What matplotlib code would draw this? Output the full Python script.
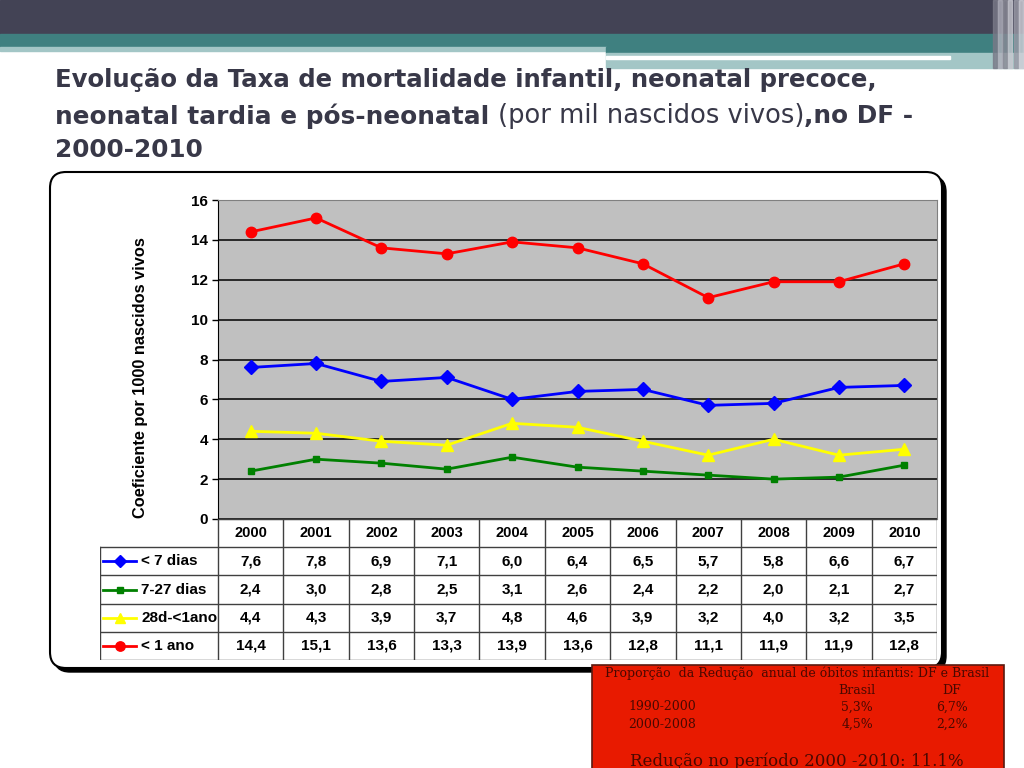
import matplotlib
matplotlib.use('Agg')
import matplotlib.pyplot as plt
from matplotlib.patches import Rectangle, FancyBboxPatch

# dados
anos = ['2000', '2001', '2002', '2003', '2004', '2005', '2006', '2007', '2008', '2009', '2010']
menos7 = [7.6, 7.8, 6.9, 7.1, 6.0, 6.4, 6.5, 5.7, 5.8, 6.6, 6.7]
d7_27 = [2.4, 3.0, 2.8, 2.5, 3.1, 2.6, 2.4, 2.2, 2.0, 2.1, 2.7]
d28_1ano = [4.4, 4.3, 3.9, 3.7, 4.8, 4.6, 3.9, 3.2, 4.0, 3.2, 3.5]
menos1ano = [14.4, 15.1, 13.6, 13.3, 13.9, 13.6, 12.8, 11.1, 11.9, 11.9, 12.8]

series = [
    ('< 7 dias', menos7, '#0000ff', 'D', 7),
    ('7-27 dias', d7_27, '#008000', 's', 5),
    ('28d-<1ano', d28_1ano, '#ffff00', '^', 8),
    ('< 1 ano', menos1ano, '#ff0000', 'o', 7.5),
]

yticks = [0, 2, 4, 6, 8, 10, 12, 14, 16]

plt.rcParams['font.family'] = ['Liberation Sans', 'DejaVu Sans']

W, H = 1024, 768
fig = plt.figure(figsize=(W / 100, H / 100), dpi=100)

# fundo do slide
bg = fig.add_axes([0, 0, 1, 1])
bg.set_xlim(0, W)
bg.set_ylim(H, 0)
bg.axis('off')

bg.add_patch(Rectangle((0, 0), W, 34, color='#434355'))
bg.add_patch(Rectangle((0, 34), W, 13, color='#3f8080'))
bg.add_patch(Rectangle((0, 47), 606, 4, color='#a3c6c6'))
bg.add_patch(Rectangle((606, 47), W - 606, 6, color='#3f8080'))
bg.add_patch(Rectangle((606, 53), W - 606, 15, color='#a3c6c6'))
bg.add_patch(Rectangle((606, 56), 344, 3, color='white'))
for x, c in [(993, '#7a7a88'), (998, '#b0b0bb'), (1003, '#8a8a96'), (1008, '#c8c8d0'), (1014, '#9a9aa6'), (1019, '#d0d0d8')]:
    bg.add_patch(Rectangle((x, 0), 4, 68, color=c, alpha=0.8))

# titulo
tc = '#383848'
tf = 'DejaVu Sans'
bg.text(55, 80, 'Evolução da Taxa de mortalidade infantil, neonatal precoce,',
        fontsize=17.6, fontweight='bold', color=tc, va='center', family=tf)
t1 = bg.text(55, 116, 'neonatal tardia e pós-neonatal ', fontsize=17.8, fontweight='bold',
             color=tc, va='center', family=tf)
fig.canvas.draw()
r = fig.canvas.get_renderer()
bb = t1.get_window_extent(r)
t2 = bg.annotate('(por mil nascidos vivos)', xy=(bb.x1, H - 116), xycoords='figure pixels',
                 fontsize=18.5, color=tc, va='center', family=tf)
bb2 = t2.get_window_extent(r)
bg.annotate(',no DF -', xy=(bb2.x1, H - 116), xycoords='figure pixels',
            fontsize=17.8, fontweight='bold', color=tc, va='center', family=tf)
bg.text(55, 150, '2000-2010', fontsize=17.8, fontweight='bold', color=tc, va='center', family=tf)

# caixa arredondada com sombra
bg.add_patch(FancyBboxPatch((54, 176), 892, 496, boxstyle='round,pad=0,rounding_size=16',
                            facecolor='black', edgecolor='black'))
bg.add_patch(FancyBboxPatch((50, 172), 892, 496, boxstyle='round,pad=0,rounding_size=16',
                            facecolor='white', edgecolor='black', linewidth=1.5))

# grafico
x0, x1 = 218, 937
ax = fig.add_axes([x0 / W, 1 - 519 / H, (x1 - x0) / W, (519 - 200) / H])
ax.set_facecolor('#c0c0c0')
xs = list(range(len(anos)))
for nome, vals, cor, mk, ms in series:
    ax.plot(xs, vals, color=cor, marker=mk, markersize=ms, linewidth=2, zorder=3)
ax.set_xlim(-0.5, len(anos) - 0.5)
ax.set_ylim(0, 16)
ax.set_yticks(yticks)
ax.set_yticklabels([str(v) for v in yticks], fontsize=11, fontweight='bold')
ax.set_xticks([])
ax.yaxis.grid(True, color='black', linewidth=1.1)
ax.set_axisbelow(True)
for s in ax.spines.values():
    s.set_color('#808080')
ax.spines['left'].set_color('black')
ax.tick_params(axis='y', length=4, width=1, pad=3)
ax.set_ylabel('Coeficiente por 1000 nascidos vivos', fontsize=11.8, fontweight='bold')
ax.yaxis.set_label_coords((148 - x0) / (x1 - x0), (519 - 378) / (519 - 200))

# tabela
cw = (x1 - x0) / len(anos)
leg_w = (218 - 100) / cw
tx = fig.add_axes([100 / W, 1 - 660 / H, (x1 - 100) / W, (660 - 519) / H])
tx.set_xlim(-0.5 - leg_w, len(anos) - 0.5)
tx.set_ylim(5, 0)
tx.axis('off')
lc = '#404040'
tx.plot([-0.5, len(anos) - 0.5], [0, 0], color=lc, lw=1)
for i in range(1, 6):
    tx.plot([-0.5 - leg_w, len(anos) - 0.5], [i, i], color=lc, lw=1)
for j in range(len(anos) + 1):
    tx.plot([j - 0.5, j - 0.5], [0, 5], color=lc, lw=1)
tx.plot([-0.5 - leg_w, -0.5 - leg_w], [1, 5], color=lc, lw=1)
for j, a in enumerate(anos):
    tx.text(j, 0.5, a, ha='center', va='center', fontsize=10.5, fontweight='bold')
for i, (nome, vals, cor, mk, ms) in enumerate(series):
    yy = i + 1.5
    lx0 = -0.5 - leg_w + 0.05
    tx.plot([lx0, lx0 + 0.5], [yy, yy], color=cor, lw=2)
    tx.plot([lx0 + 0.25], [yy], color=cor, marker=mk, markersize=ms * 0.9)
    tx.text(lx0 + 0.58, yy, nome, ha='left', va='center', fontsize=11, fontweight='bold')
    for j, v in enumerate(vals):
        tx.text(j, yy, f'{v:.1f}'.replace('.', ','), ha='center', va='center',
                fontsize=11, fontweight='bold')

# caixa vermelha
bg.add_patch(Rectangle((592, 665), 412, 110, facecolor='#e81a00', edgecolor='#5a1a10', linewidth=1.2))
rc = '#4a0800'
ff = 'DejaVu Serif'
bg.text(797, 673, 'Proporção  da Redução  anual de óbitos infantis: DF e Brasil', ha='center', va='center',
        fontsize=9, color=rc, family=ff)
bg.text(857, 690, 'Brasil', ha='center', va='center', fontsize=9, color=rc, family=ff)
bg.text(952, 690, 'DF', ha='center', va='center', fontsize=9, color=rc, family=ff)
bg.text(628, 707, '1990-2000', ha='left', va='center', fontsize=9, color=rc, family=ff)
bg.text(857, 707, '5,3%', ha='center', va='center', fontsize=9, color=rc, family=ff)
bg.text(952, 707, '6,7%', ha='center', va='center', fontsize=9, color=rc, family=ff)
bg.text(628, 724, '2000-2008', ha='left', va='center', fontsize=9, color=rc, family=ff)
bg.text(857, 724, '4,5%', ha='center', va='center', fontsize=9, color=rc, family=ff)
bg.text(952, 724, '2,2%', ha='center', va='center', fontsize=9, color=rc, family=ff)
bg.text(797, 761, 'Redução no período 2000 -2010: 11.1%', ha='center', va='center',
        fontsize=12, color=rc, family=ff)

fig.savefig('out.png', dpi=100)
